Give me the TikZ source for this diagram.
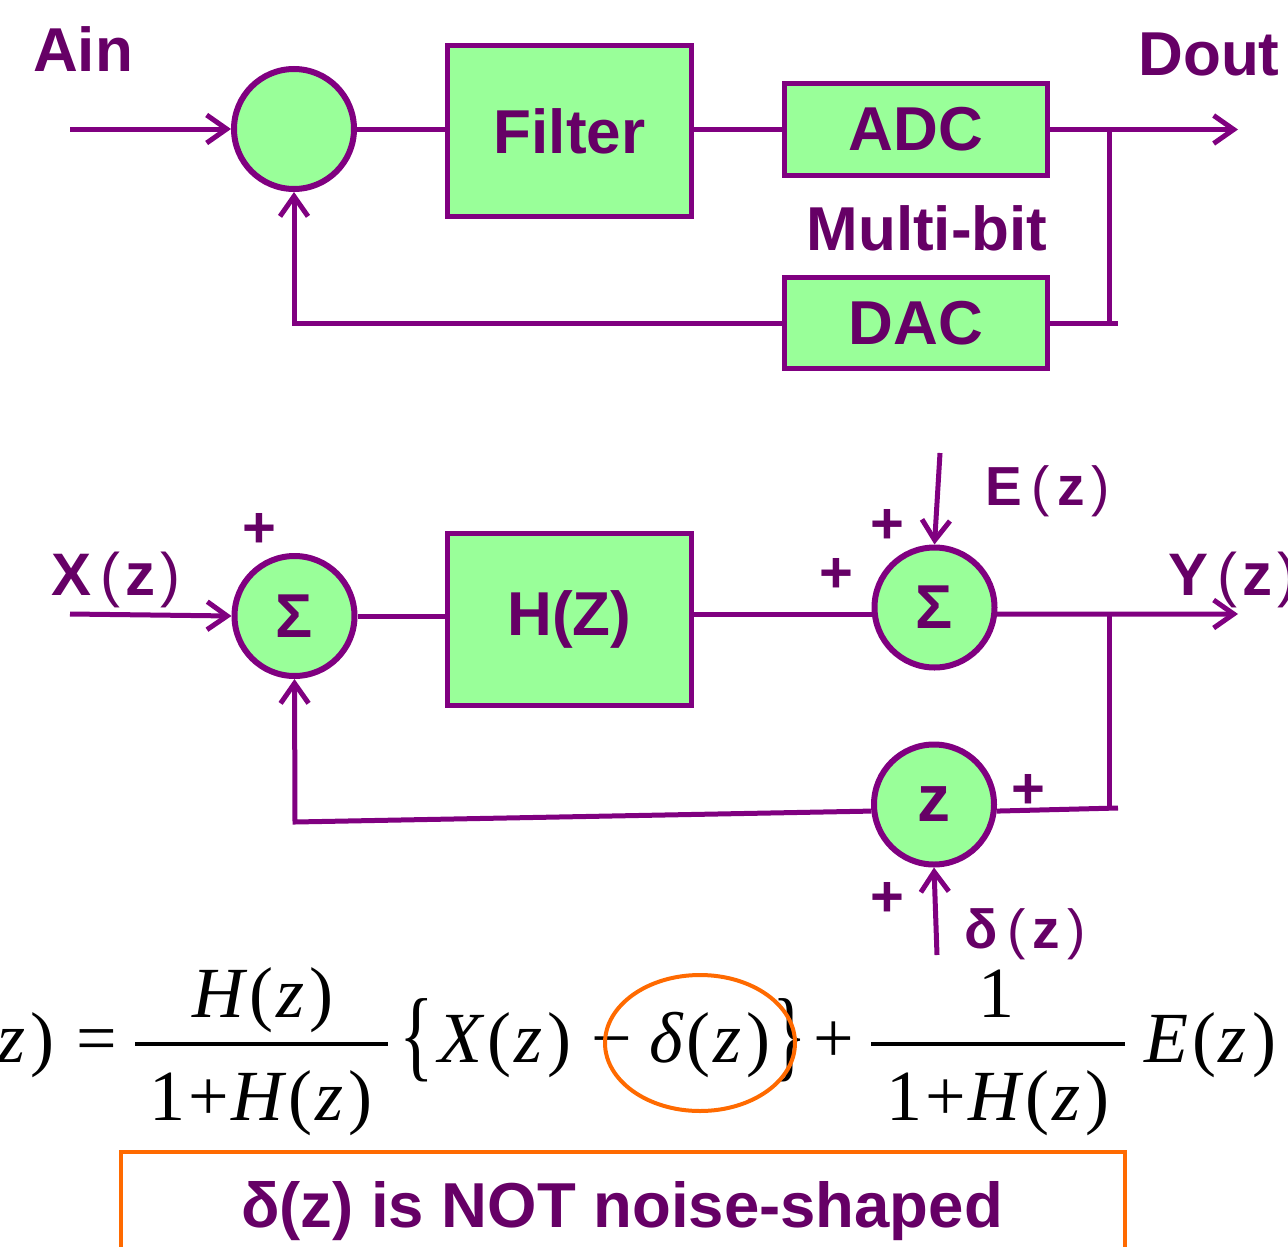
\documentclass[tikz,border=0pt]{standalone}
\usepackage{fontspec}
\usepackage{graphicx}
\setmainfont{Liberation Sans}
\newfontfamily\tnr{Liberation Serif}
\usetikzlibrary{arrows.meta}
\definecolor{ln}{HTML}{800080}
\definecolor{tx}{HTML}{660066}
\definecolor{gf}{HTML}{99FF99}
\definecolor{org}{HTML}{FF6A00}
\newcommand\lpar{{\mdseries(}}
\newcommand\rpar{{\mdseries)}}
\newcommand\Hz{{\itshape H}\kern5pt(\kern3pt{\itshape z}\kern5pt)}
\newcommand\fz{(\kern3pt{\itshape z}\kern5pt)}
\begin{document}
\begin{tikzpicture}[x=1pt,y=-1pt,
  wire/.style={draw=ln,line width=5pt},
  arr/.style={wire,-{Straight Barb[length=20pt,width=28pt]}},
  blk/.style={draw=ln,fill=gf,line width=5pt,inner sep=0pt,text=tx,
    font=\fontsize{62}{70}\selectfont\bfseries},
  sumnode/.style={circle,draw=ln,fill=gf,line width=6pt,minimum size=120pt,
    inner sep=0pt,text=tx,font=\fontsize{62}{70}\selectfont\bfseries},
  lbl/.style={text=tx,font=\fontsize{62}{70}\selectfont\bfseries,inner sep=0pt,anchor=base},
  sml/.style={text=tx,font=\fontsize{55}{60}\selectfont\bfseries,inner sep=0pt,anchor=base west},
  pls/.style={text=tx,font=\fontsize{58}{60}\selectfont\bfseries,inner sep=0pt},
  eq/.style={font=\tnr\fontsize{72}{80}\selectfont,inner sep=0pt,anchor=base},
  orng/.style={draw=org,line width=4pt}
]
\path[use as bounding box] (0,0) rectangle (1288,1247);
\clip (0,0) rectangle (1288,1247);

% ---------- top diagram ----------
\node[lbl] (ain) at (83,72) {Ain};
\node[lbl] (doutl) at (1209,75) {Dout};
\node[sumnode] (c1) at (294,129) {};
\node[blk,minimum width=244pt,minimum height=171pt] (filter) at (569.5,131) {Filter};
\node[blk,minimum width=263pt,minimum height=92pt] (adc) at (916,129.5) {ADC};
\node[blk,minimum width=263pt,minimum height=91pt] (dac) at (916,323) {DAC};
\node[lbl] (mb) at (927,250) {Multi-bit};
\coordinate (ainS) at (70,129);
\coordinate (dout) at (1238,129.5);
\coordinate (j1) at (1109,129.5);
\coordinate (j1e) at (1118,323);
\draw[arr] (ainS) -- (c1.west);
\draw[wire] (c1.east) -- (c1.east -| filter.west);
\draw[wire] (filter.east |- adc.west) -- (adc.west);
\draw[arr] (adc.east) -- (dout);
\draw[wire] (j1) -- (j1 |- j1e);
\draw[wire] (dac.east) -- (j1e);
\draw[arr] (dac.west) -| (c1.south);

% ---------- bottom diagram ----------
\node[sml,anchor=base west,font=\fontsize{60}{60}\selectfont\bfseries] (xl) at (51,595) {X\kern9pt\lpar\kern5pt z\kern5pt\rpar};
\node[sml,anchor=base west,font=\fontsize{60}{60}\selectfont\bfseries] (yl) at (1168,595) {Y\kern9pt\lpar\kern5pt z\kern5pt\rpar};
\node[sml] (el) at (985,505) {E\kern10pt\lpar\kern7pt z\kern7pt\rpar};
\node[sml] (dl) at (964,948) {δ\kern10pt\lpar\kern7pt z\kern7pt\rpar};
\node[sumnode] (s1) at (294.5,616) {Σ};
\node[blk,minimum width=244pt,minimum height=172pt] (hz) at (569.5,619) {H(Z)};
\node[sumnode] (s2) at (934.5,607.5) {Σ};
\node[sumnode,font=\fontsize{66}{70}\selectfont\bfseries] (zc) at (934,804.5) {z};
\node[pls] (p1) at (259,530) {+};
\node[pls] (p2) at (836,575) {+};
\node[pls] (p3) at (887,526) {+};
\node[pls] (p4) at (1028,791) {+};
\node[pls] (p5) at (887,899) {+};
\coordinate (xin) at (70,614);
\coordinate (ein) at (940,453);
\coordinate (din) at (937,955);
\coordinate (yout) at (1238,614);
\coordinate (j2) at (1109,614);
\coordinate (j2e) at (1118,808);
\coordinate (fb2) at (295,822);
\draw[arr] (xin) -- (s1.west);
\draw[wire] (s1.east) -- (s1.east -| hz.west);
\draw[wire] (hz.east |- s2.186) -- (s2.186);
\draw[arr] (ein) -- (s2.north);
\draw[arr] (s2.-6) -- (yout);
\draw[wire] (j2) -- (j2 |- j2e);
\draw[wire] (zc.-6) -- (j2e);
\draw[arr] (zc.186) -- (fb2) -- (s1.south);
\draw[arr] (din) -- (zc.south);

% ---------- equation ----------
\node[eq,anchor=base east] (eqY) at (55,1062) {{\itshape Y}\kern4pt\fz};
\node[eq] (eqeq) at (97,1062) {=};
\node[eq] (n1) at (263,1017) {\Hz};
\node[eq] (d1) at (261,1120) {1\kern3pt+\kern3pt\Hz};
\draw[line width=3.5pt] (135,1044) -- (388,1044);
\node[eq,anchor=center] (lb) at (417,1040) {\scalebox{1}[1.4]{\{}};
\node[eq] (xz) at (505,1062) {{\itshape X}\kern5pt\fz};
\node[eq] (mn) at (612,1062) {−};
\node[eq] (dz) at (710,1062) {{\itshape δ}\kern4pt\fz};
\node[eq,anchor=center] (rb) at (790,1040) {\scalebox{1}[1.4]{\}}};
\node[eq] (pl) at (834,1062) {+};
\node[eq] (n2) at (996,1017) {1};
\node[eq] (d2) at (998,1120) {1\kern3pt+\kern3pt\Hz};
\draw[line width=3.5pt] (871,1044) -- (1125,1044);
\node[eq] (ez) at (1210,1062) {{\itshape E}\kern4pt\fz};
\draw[orng] (700,1043) ellipse [x radius=95pt, y radius=68pt];

% ---------- note box ----------
\draw[orng] (121,1152) rectangle (1125,1262);
\node[lbl,font=\fontsize{63.5}{70}\selectfont\bfseries] (note) at (622,1227) {δ(z) is NOT noise-shaped};
\end{tikzpicture}
\end{document}
